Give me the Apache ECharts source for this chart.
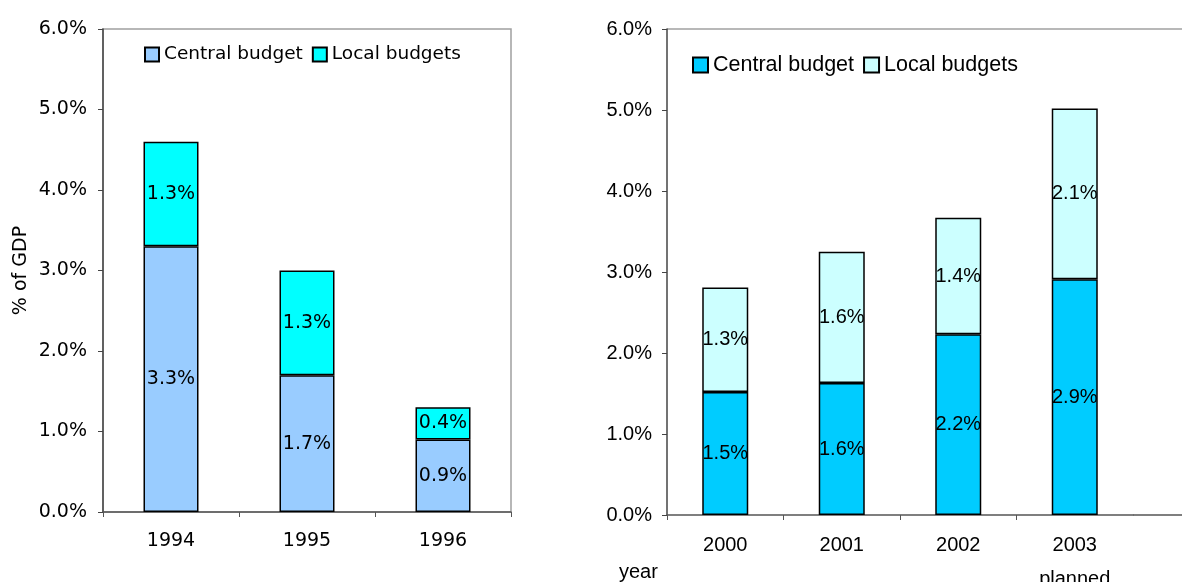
<!DOCTYPE html>
<html>
<head>
<meta charset="utf-8">
<script src="https://cdn.jsdelivr.net/npm/echarts@6/dist/echarts.min.js"></script>
<style>
  html, body { margin: 0; padding: 0; background: #fff; }
  #chart { width: 1182px; height: 582px; }
</style>
</head>
<body>
<div id="chart"></div>
<script>
// left panel: 1994-1996
var yearsLeft = ['1994', '1995', '1996'];
var centralLeft = [3.3, 1.7, 0.9];
var localLeft = [1.3, 1.3, 0.4];

// right panel: 2000-2003
var yearsRight = ['2000', '2001', '2002', '2003\nplanned'];
var centralRight = [1.52, 1.63, 2.23, 2.91];
var localRight = [1.29, 1.62, 1.44, 2.11];

var yTicks = [0, 1, 2, 3, 4, 5, 6];
// right panel has ticks between categories but none at the far end
var rightTickEdges = [0, 1, 2, 3];

var chart = echarts.init(document.getElementById('chart'));

function pct(v) { return v.toFixed(1) + '%'; }

var fontL = 'DejaVu Sans';
var fontR = 'Liberation Sans';

var option = {
    animation: false,
    backgroundColor: '#fff',
    legend: [
        {
            data: ['Central budget|L', 'Local budgets|L'],
            left: 144, top: 45, padding: 0,
            itemWidth: 14, itemHeight: 14, itemGap: 9,
            icon: 'rect',
            formatter: function (n) { return n.split('|')[0]; },
            textStyle: { fontFamily: fontL, fontSize: 18.5, color: '#000' }
        },
        {
            data: ['Central budget|R', 'Local budgets|R'],
            left: 692, top: 54, padding: 0,
            itemWidth: 15, itemHeight: 15, itemGap: 9,
            icon: 'rect',
            formatter: function (n) { return n.split('|')[0]; },
            textStyle: { fontFamily: fontR, fontSize: 21.5, color: '#000' }
        }
    ],
    grid: [
        { left: 103, top: 29, width: 408, height: 483, show: true, borderColor: '#a0a0a0', borderWidth: 1.5,
          outerBoundsMode: 'none', containLabel: false },
        { left: 667, top: 29, width: 466, height: 486, show: false,
          outerBoundsMode: 'none', containLabel: false }
    ],
    xAxis: [
        {
            gridIndex: 0, type: 'category', data: yearsLeft,
            axisLine: { lineStyle: { color: '#555', width: 1.5 } },
            axisTick: { show: true, length: 5, lineStyle: { color: '#555' } },
            axisLabel: { margin: 20, fontFamily: fontL, fontSize: 19, color: '#000' }
        },
        {
            gridIndex: 1, type: 'category', data: yearsRight, position: 'bottom',
            axisLine: { lineStyle: { color: '#555', width: 1.5 } },
            axisTick: { show: false },
            axisLabel: { margin: 13, fontFamily: fontR, fontSize: 20, lineHeight: 34, color: '#000' }
        },
        {
            // tick-only axis for the right panel
            gridIndex: 1, type: 'value', min: 0, max: yearsRight.length, position: 'bottom',
            axisLine: { show: false },
            axisLabel: { show: false },
            splitLine: { show: false },
            axisTick: { show: true, length: 5, customValues: rightTickEdges, lineStyle: { color: '#555' } }
        }
    ],
    yAxis: [
        {
            gridIndex: 0, type: 'value', min: yTicks[0], max: yTicks[yTicks.length - 1], interval: 1,
            name: '% of GDP', nameLocation: 'middle', nameGap: 72, nameRotate: 90,
            nameTextStyle: { fontFamily: fontL, fontSize: 19, color: '#000' },
            axisLine: { show: true, lineStyle: { color: '#444', width: 1.5 } },
            axisTick: { show: true, length: 5, lineStyle: { color: '#444' } },
            splitLine: { show: false },
            axisLabel: { margin: 16, fontFamily: fontL, fontSize: 19, color: '#000', formatter: pct }
        },
        {
            gridIndex: 1, type: 'value', min: yTicks[0], max: yTicks[yTicks.length - 1], interval: 1,
            axisLine: { show: true, lineStyle: { color: '#444', width: 1.5 } },
            axisTick: { show: true, length: 5, lineStyle: { color: '#444' } },
            splitLine: { show: false },
            axisLabel: { margin: 15, fontFamily: fontR, fontSize: 20, color: '#000', formatter: pct }
        }
    ],
    series: [
        {
            name: 'Central budget|L', type: 'bar', stack: 'L', xAxisIndex: 0, yAxisIndex: 0,
            data: centralLeft, barWidth: 55,
            itemStyle: { color: '#99ccff', borderColor: '#000', borderWidth: 1.5 },
            label: { show: true, position: 'inside', fontFamily: fontL, fontSize: 19, color: '#000',
                formatter: function (p) { return pct(p.value); } }
        },
        {
            name: 'Local budgets|L', type: 'bar', stack: 'L', xAxisIndex: 0, yAxisIndex: 0,
            data: localLeft, barWidth: 55,
            itemStyle: { color: '#00ffff', borderColor: '#000', borderWidth: 1.5 },
            label: { show: true, position: 'inside', fontFamily: fontL, fontSize: 19, color: '#000',
                formatter: function (p) { return pct(p.value); } }
        },
        {
            name: 'Central budget|R', type: 'bar', stack: 'R', xAxisIndex: 1, yAxisIndex: 1,
            data: centralRight, barWidth: 46,
            itemStyle: { color: '#00ccff', borderColor: '#000', borderWidth: 1.5 },
            label: { show: true, position: 'inside', fontFamily: fontR, fontSize: 20, color: '#000',
                formatter: function (p) { return pct(p.value); } }
        },
        {
            name: 'Local budgets|R', type: 'bar', stack: 'R', xAxisIndex: 1, yAxisIndex: 1,
            data: localRight, barWidth: 46,
            itemStyle: { color: '#ccffff', borderColor: '#000', borderWidth: 1.5 },
            label: { show: true, position: 'inside', fontFamily: fontR, fontSize: 20, color: '#000',
                formatter: function (p) { return pct(p.value); } }
        }
    ],
    graphic: [
        // right panel frame runs off the picture edge
        { type: 'line', shape: { x1: 667, y1: 29, x2: 1182, y2: 29 }, style: { stroke: '#a0a0a0', lineWidth: 1.5 } },
        { type: 'line', shape: { x1: 1133, y1: 515, x2: 1182, y2: 515 }, style: { stroke: '#555', lineWidth: 1.5 } },
        { type: 'text', left: 619, top: 562, style: { text: 'year', fontFamily: fontR, fontSize: 20, fill: '#000' } }
    ]
};

chart.setOption(option);
</script>
</body>
</html>
